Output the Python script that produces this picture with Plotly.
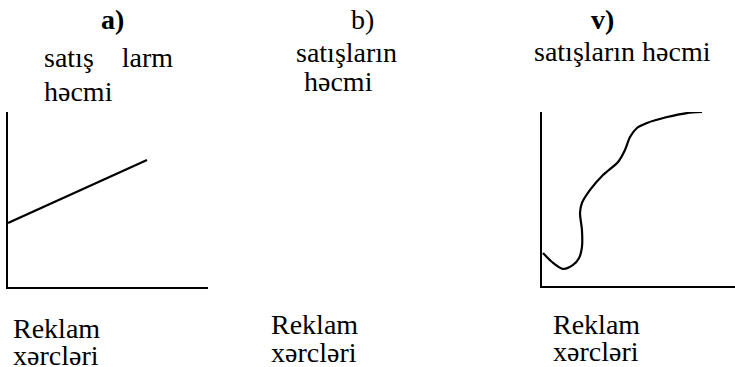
import plotly.graph_objects as go

W, H = 735, 367

# Panel a: linear relation (advertising spend -> sales volume)
a_spend = [0.0, 6.95]
a_sales = [3.66, 7.26]

# Panel v: non-linear relation
v_spend = [0.05, 0.52, 1.09, 1.61, 1.92, 2.07, 2.07, 1.97, 2.07, 2.49, 3.16,
           3.94, 4.30, 4.56, 4.92, 5.44, 6.48, 7.51, 8.29]
v_sales = [1.90, 1.38, 0.98, 1.21, 1.61, 2.24, 3.22, 4.20, 4.77, 5.52, 6.38,
           7.13, 7.82, 8.56, 9.08, 9.37, 9.71, 9.94, 10.0]

panel_labels = ["a)", "b)", "v)"]
y_titles = ["satış\u00a0\u00a0\u00a0\u00a0larm", "həcmi", "satışların", "həcmi", "satışların həcmi"]
x_title_1 = "Reklam"
x_title_2 = "xərcləri"

FONT = "Liberation Serif"
FS = 28

fig = go.Figure()
fig.add_trace(go.Scatter(x=a_spend, y=a_sales, mode="lines",
                         line=dict(color="black", width=2.2),
                         xaxis="x", yaxis="y", showlegend=False, hoverinfo="skip"))
fig.add_trace(go.Scatter(x=v_spend, y=v_sales, mode="lines",
                         line=dict(color="black", width=2.2, shape="spline", smoothing=0.8),
                         xaxis="x2", yaxis="y2", showlegend=False, hoverinfo="skip"))

def px_x(p):
    return p / W

def px_y(p):
    return 1 - p / H

ax_common = dict(showline=True, linecolor="black", linewidth=2, showgrid=False,
                 zeroline=False, showticklabels=False, ticks="", fixedrange=True)

fig.update_layout(
    width=W, height=H, margin=dict(l=0, r=0, t=0, b=0),
    paper_bgcolor="white", plot_bgcolor="white",
    xaxis=dict(domain=[px_x(8), px_x(208)], range=[0, 10], anchor="y", **ax_common),
    yaxis=dict(domain=[px_y(287), px_y(112)], range=[0, 10], anchor="x", **ax_common),
    xaxis2=dict(domain=[px_x(542), 1.0], range=[0, 10], anchor="y2", **ax_common),
    yaxis2=dict(domain=[px_y(286), px_y(112)], range=[0, 10], anchor="x2", **ax_common),
)

ASC = 26  # approx px from box top to baseline

def txt(s, x_left, baseline, bold=False):
    fig.add_annotation(text=("<b>%s</b>" % s) if bold else s,
                       xref="paper", yref="paper",
                       x=px_x(x_left), y=px_y(baseline - ASC),
                       xanchor="left", yanchor="top", showarrow=False,
                       font=dict(family=FONT, size=FS, color="black"))

# panel a
txt(panel_labels[0], 99, 28, bold=True)
txt(y_titles[0], 42, 66)
txt(y_titles[1], 42, 100)
# panel b
txt(panel_labels[1], 349, 28)
txt(y_titles[2], 294, 61)
txt(y_titles[3], 302, 90)
# panel v
txt(panel_labels[2], 589, 28, bold=True)
txt(y_titles[4], 532, 60)
# bottom labels
for xl, b1, b2 in [(11, 337, 364), (269, 333, 361), (551, 333, 360)]:
    txt(x_title_1, xl, b1)
    txt(x_title_2, xl, b2)

fig.write_html("out.html", config={"displayModeBar": False},
               post_script="document.body.style.margin='0';document.body.style.overflow='hidden';")
